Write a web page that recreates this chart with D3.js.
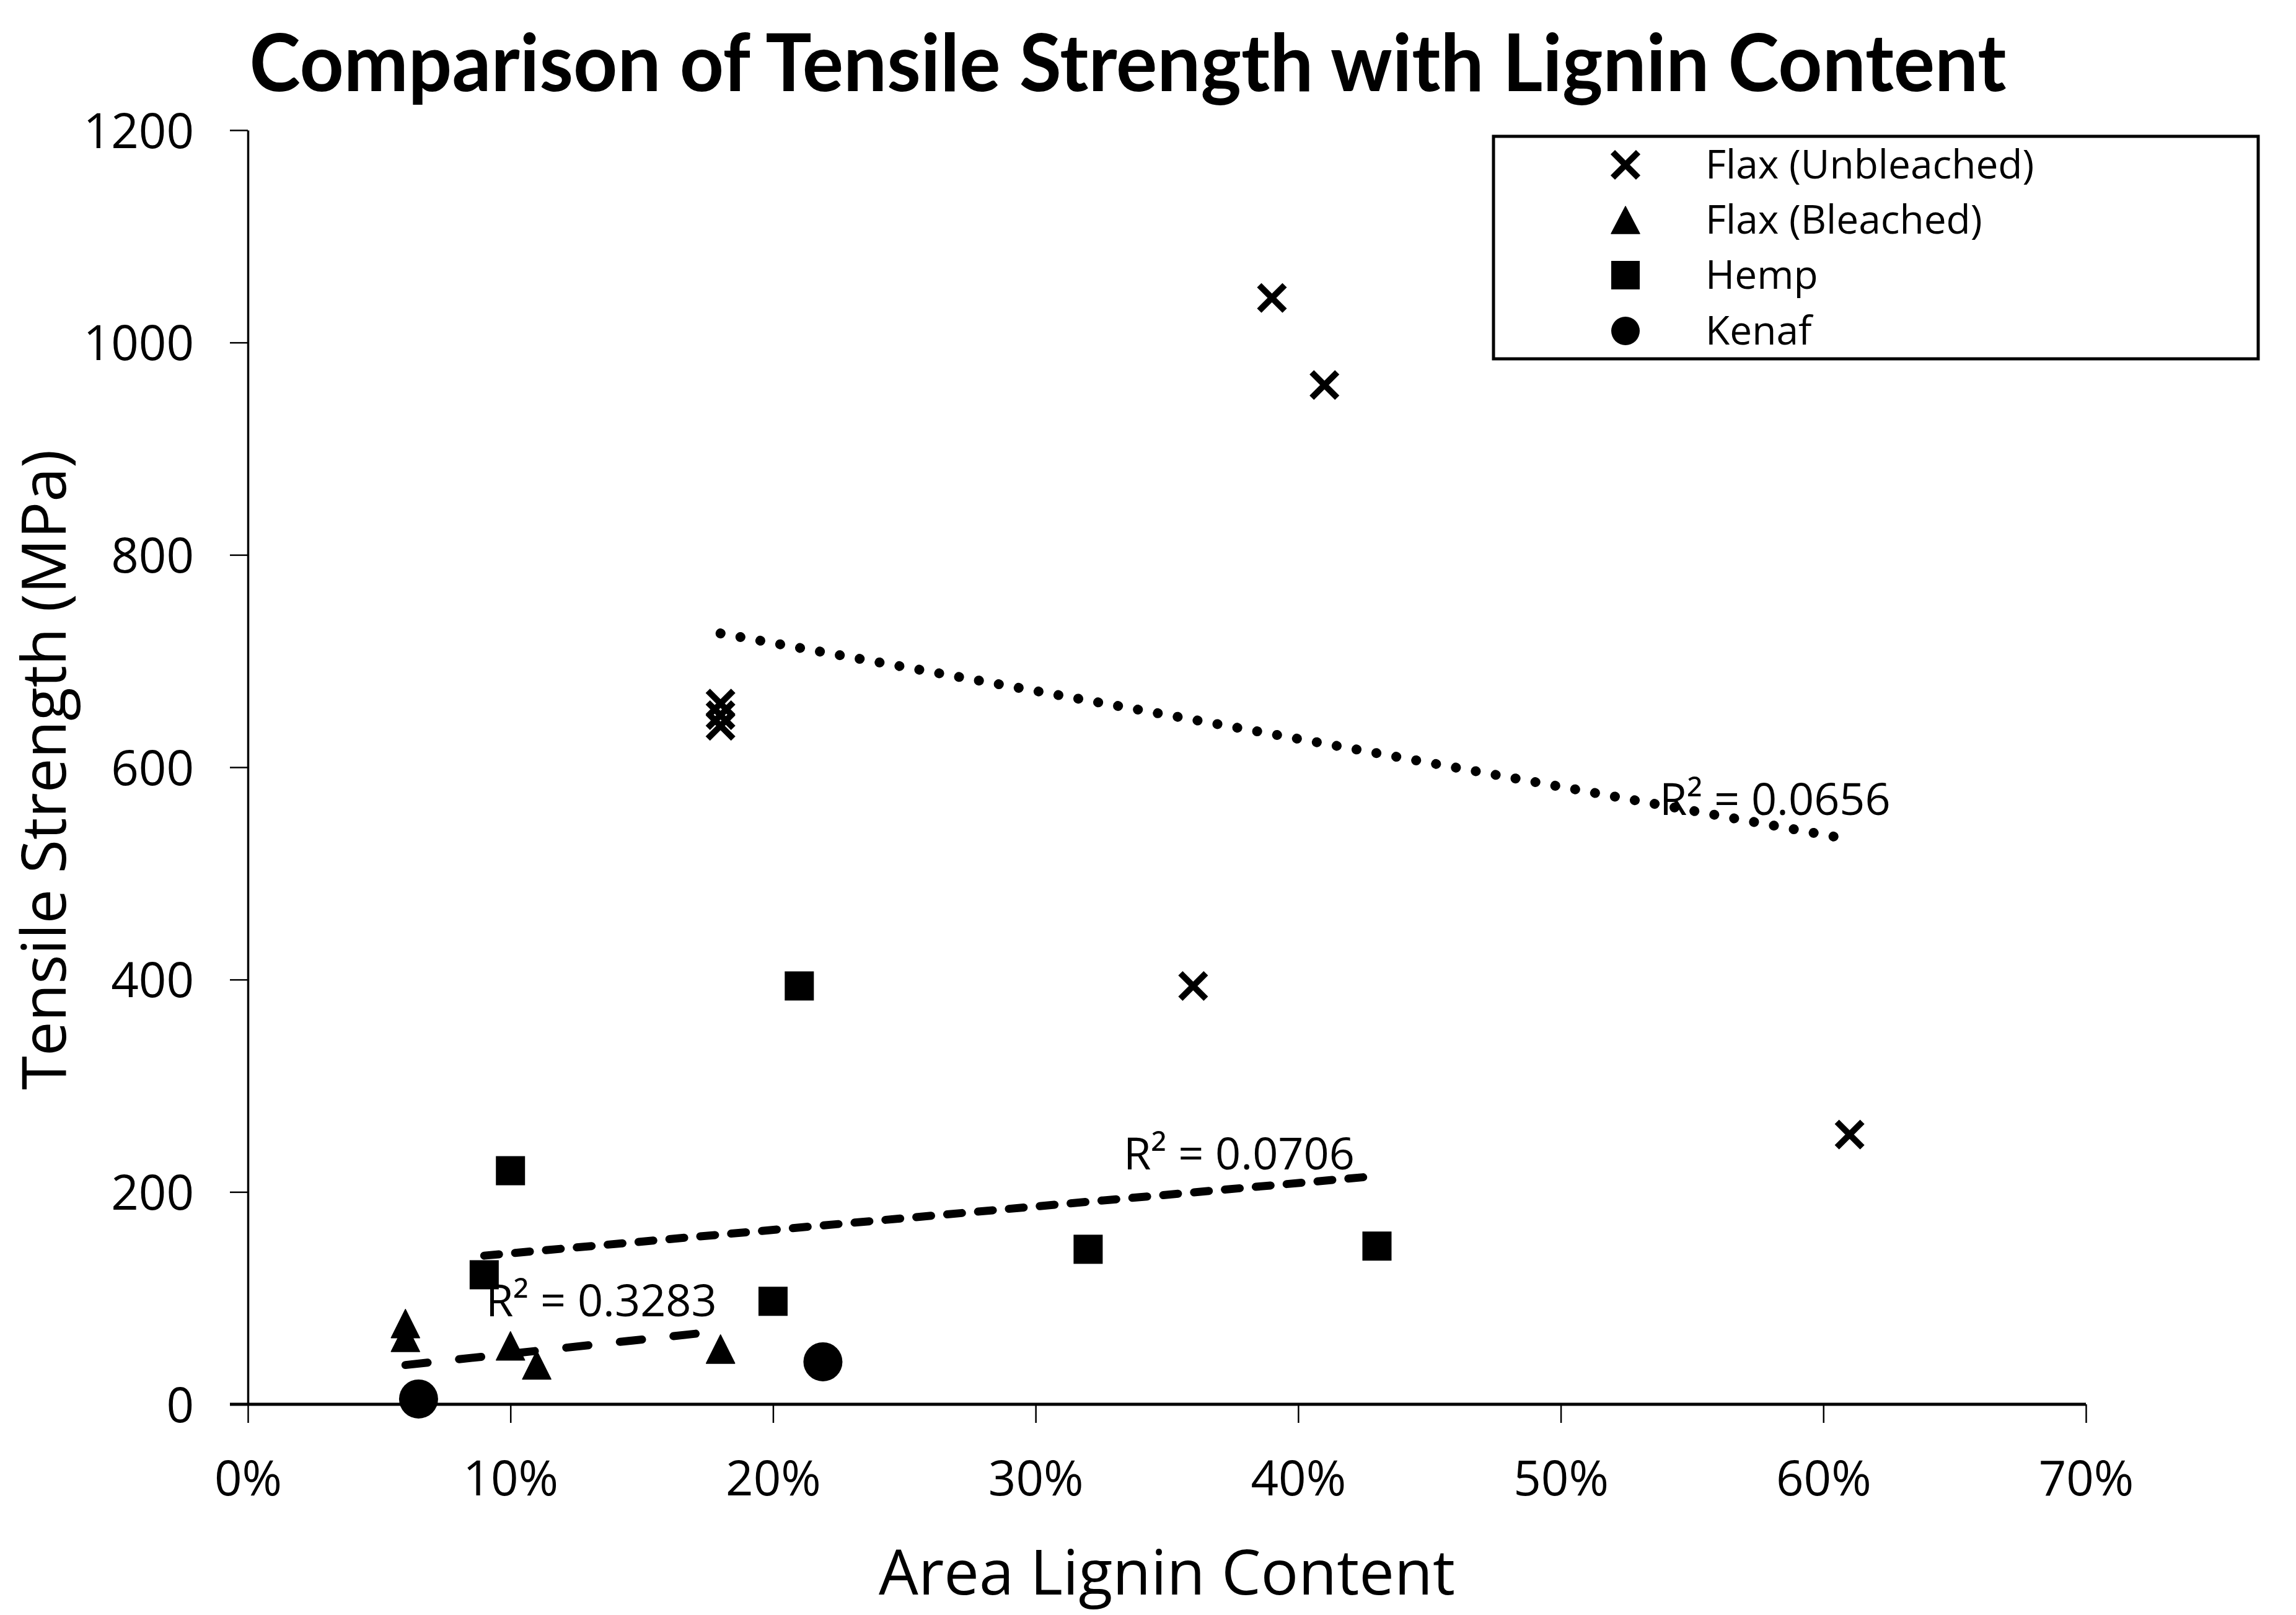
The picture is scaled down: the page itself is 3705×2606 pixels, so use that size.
<!DOCTYPE html>
<html>
<head>
<meta charset="utf-8">
<script src="https://cdn.jsdelivr.net/npm/d3@7/dist/d3.min.js"></script>
<style>
  html, body { margin: 0; padding: 0; background: #ffffff; }
  svg { display: block; }
</style>
</head>
<body>
<script>
// ---------------- DATA ----------------
const xTickValues = [0, 0.1, 0.2, 0.3, 0.4, 0.5, 0.6, 0.7];
const xTickLabels = ["0%", "10%", "20%", "30%", "40%", "50%", "60%", "70%"];
const yTickValues = [0, 200, 400, 600, 800, 1000, 1200];
const yTickLabels = ["0", "200", "400", "600", "800", "1000", "1200"];

const seriesNames = ["Flax (Unbleached)", "Flax (Bleached)", "Hemp", "Kenaf"];

const flaxUnbleachedX = [0.18, 0.18, 0.18, 0.39, 0.41, 0.36, 0.61];
const flaxUnbleachedY = [660, 649, 639, 1042, 960, 394, 254];

const flaxBleachedX = [0.06, 0.06, 0.10, 0.11, 0.18];
const flaxBleachedY = [76, 63, 55, 37, 52];

const hempX = [0.09, 0.10, 0.20, 0.21, 0.32, 0.43];
const hempY = [122, 220, 97, 394, 146, 149];

const kenafX = [0.065, 0.219];
const kenafY = [5, 40];

// trendlines (end points)
const trendUnbleachedX = [0.18, 0.61];
const trendUnbleachedY = [726, 532];
const trendHempX = [0.09, 0.43];
const trendHempY = [140, 215];
const trendBleachedX = [0.06, 0.18];
const trendBleachedY = [37, 69];

const r2Labels = ["R\u00B2 = 0.0656", "R\u00B2 = 0.0706", "R\u00B2 = 0.3283"];

const titleText = "Comparison of Tensile Strength with Lignin Content";
const xTitleText = "Area Lignin Content";
const yTitleText = "Tensile Strength (MPa)";

// ---------------- LAYOUT ----------------
const W = 3705, H = 2606;
const plot = { left: 400, right: 3366, top: 210, bottom: 2266 };
const FONT = "'Open Sans', 'Noto Sans', sans-serif";

const svg = d3.select("body").append("svg")
  .attr("width", W).attr("height", H)
  .attr("viewBox", `0 0 ${W} ${H}`);
svg.append("rect").attr("width", W).attr("height", H).attr("fill", "#fff");

const x = d3.scaleLinear().domain([0, 0.7]).range([plot.left, plot.right]);
const y = d3.scaleLinear().domain([0, 1200]).range([plot.bottom, plot.top]);

// ---------------- AXES ----------------
const yAxis = d3.axisLeft(y)
  .tickValues(yTickValues)
  .tickFormat((d, i) => yTickLabels[i])
  .tickSizeInner(29).tickSizeOuter(0).tickPadding(58);
const gy = svg.append("g").attr("transform", `translate(${plot.left},0)`).call(yAxis);
gy.select(".domain").attr("stroke", "#000").attr("stroke-width", 3.5);
gy.selectAll(".tick line").attr("stroke", "#000").attr("stroke-width", 2.5);
gy.selectAll(".tick text")
  .attr("font-family", FONT).attr("font-size", 78).attr("fill", "#000")
  .attr("dy", "0.36em");

const xAxis = d3.axisBottom(x)
  .tickValues(xTickValues)
  .tickFormat((d, i) => xTickLabels[i])
  .tickSizeInner(30).tickSizeOuter(0).tickPadding(0);
const gx = svg.append("g").attr("transform", `translate(0,${plot.bottom})`).call(xAxis);
gx.select(".domain").attr("stroke", "#000").attr("stroke-width", 5)
  .attr("d", `M${plot.left - 29},0H${plot.right}`);
gx.selectAll(".tick line").attr("stroke", "#000").attr("stroke-width", 2.5);
gx.selectAll(".tick text")
  .attr("font-family", FONT).attr("font-size", 78).attr("fill", "#000")
  .attr("y", 2413 - plot.bottom).attr("dy", 0);

// ---------------- TITLES ----------------
const title = svg.append("text")
  .attr("x", 1820).attr("y", 147)
  .attr("text-anchor", "middle")
  .attr("font-family", "Lato, 'Open Sans', sans-serif")
  .attr("font-weight", 700)
  .attr("font-size", 128)
  .attr("fill", "#000")
  .text(titleText);
{
  const target = 2835;
  const w = title.node().getComputedTextLength();
  if (Math.abs(w - target) > 10) {
    title.attr("textLength", target).attr("lengthAdjust", "spacingAndGlyphs");
  }
}

svg.append("text")
  .attr("x", (plot.left + plot.right) / 2).attr("y", 2573)
  .attr("text-anchor", "middle")
  .attr("font-family", FONT).attr("font-size", 101).attr("fill", "#000")
  .text(xTitleText);

svg.append("text")
  .attr("transform", `translate(106,1242) rotate(-90)`)
  .attr("text-anchor", "middle")
  .attr("font-family", FONT).attr("font-size", 99).attr("fill", "#000")
  .text(yTitleText);

// ---------------- TRENDLINES ----------------
const line = d3.line().x(d => x(d[0])).y(d => y(d[1]));
const trends = [
  { xs: trendUnbleachedX, ys: trendUnbleachedY, width: 16, dash: "0.1,32.5" },
  { xs: trendHempX, ys: trendHempY, width: 13, dash: "24,26" },
  { xs: trendBleachedX, ys: trendBleachedY, width: 13, dash: "36,51" }
];
trends.forEach(t => {
  svg.append("path")
    .attr("d", line(d3.zip(t.xs, t.ys)))
    .attr("fill", "none").attr("stroke", "#000")
    .attr("stroke-width", t.width)
    .attr("stroke-linecap", "round")
    .attr("stroke-dasharray", t.dash);
});

// ---------------- MARKERS ----------------
function xMark(g, cx, cy, h) {
  g.append("path")
    .attr("d", `M${cx - h},${cy - h}L${cx + h},${cy + h}M${cx - h},${cy + h}L${cx + h},${cy - h}`)
    .attr("stroke", "#000").attr("stroke-width", 10).attr("fill", "none");
}
function triMark(g, cx, cy, w, h) {
  g.append("path")
    .attr("d", `M${cx},${cy - h / 2}L${cx + w / 2},${cy + h / 2}L${cx - w / 2},${cy + h / 2}Z`)
    .attr("fill", "#000").attr("stroke", "#000").attr("stroke-width", 1.5)
    .attr("stroke-linejoin", "round");
}
function sqMark(g, cx, cy, s) {
  g.append("rect").attr("x", cx - s / 2).attr("y", cy - s / 2)
    .attr("width", s).attr("height", s).attr("fill", "#000");
}
function circMark(g, cx, cy, r) {
  g.append("circle").attr("cx", cx).attr("cy", cy).attr("r", r).attr("fill", "#000");
}

const gm = svg.append("g");
flaxUnbleachedX.forEach((v, i) => xMark(gm, x(v), y(flaxUnbleachedY[i]), 20.5));
flaxBleachedX.forEach((v, i) => triMark(gm, x(v), y(flaxBleachedY[i]), 46, 46));
hempX.forEach((v, i) => sqMark(gm, x(v), y(hempY[i]), 47));
kenafX.forEach((v, i) => circMark(gm, x(v), y(kenafY[i]), 31.5));

// ---------------- R² LABELS ----------------
const r2Pos = [
  { x: 0.5376, y: 555 },
  { x: 0.3335, y: 221 },
  { x: 0.0906, y: 82.6 }
];
r2Labels.forEach((t, i) => {
  svg.append("text")
    .attr("x", x(r2Pos[i].x)).attr("y", y(r2Pos[i].y))
    .attr("font-family", FONT).attr("font-size", 72).attr("fill", "#000")
    .text(t);
});

// ---------------- LEGEND ----------------
const lg = svg.append("g");
lg.append("rect").attr("x", 2410).attr("y", 220).attr("width", 3644 - 2410).attr("height", 579 - 220)
  .attr("fill", "#fff").attr("stroke", "#000").attr("stroke-width", 5);
const legendRowY = [266, 355, 444, 534];
const legendMarkX = 2623;
seriesNames.forEach((name, i) => {
  const cy = legendRowY[i];
  if (i === 0) xMark(lg, legendMarkX, cy, 20.5);
  if (i === 1) triMark(lg, legendMarkX, cy, 46, 44);
  if (i === 2) sqMark(lg, legendMarkX, cy, 46);
  if (i === 3) circMark(lg, legendMarkX, cy, 23);
  lg.append("text")
    .attr("x", 2752).attr("y", cy + 22)
    .attr("font-family", FONT).attr("font-size", 64).attr("fill", "#000")
    .text(name);
});
</script>
</body>
</html>
